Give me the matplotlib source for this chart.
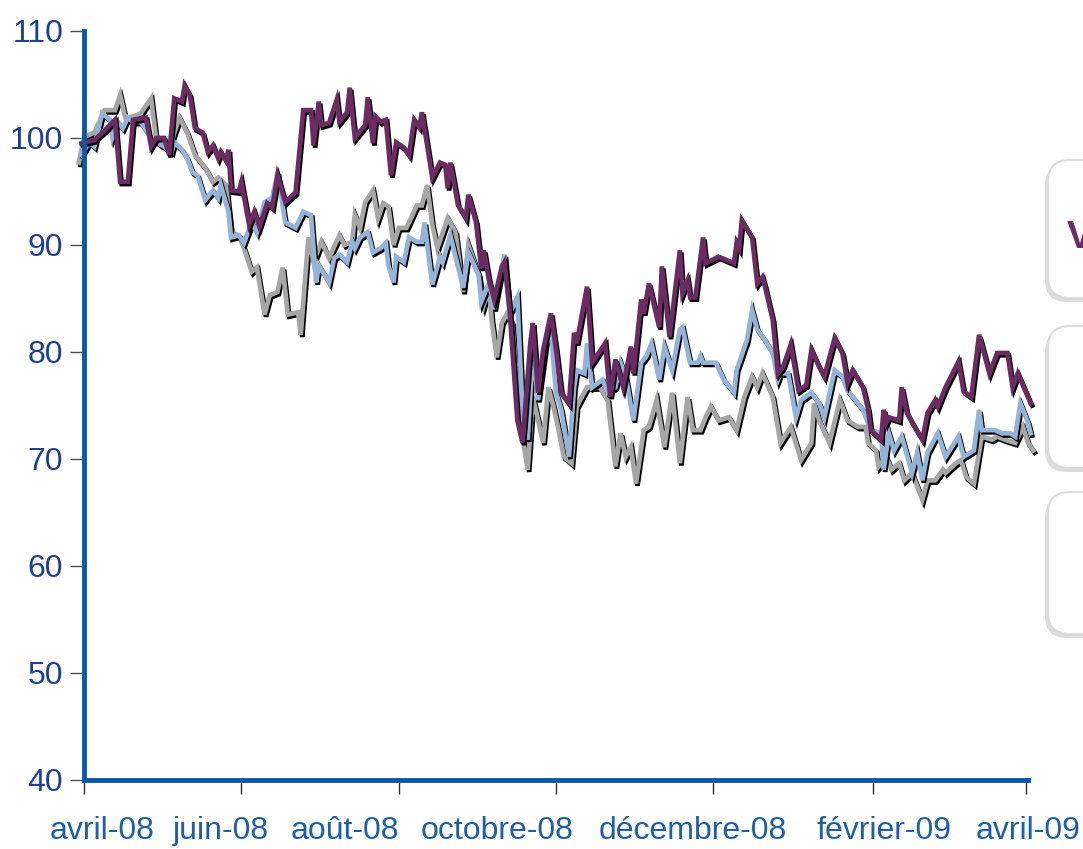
import numpy as np
import matplotlib
matplotlib.use("Agg")
import matplotlib.pyplot as plt
import matplotlib.transforms as mtransforms
from matplotlib.patches import FancyBboxPatch
from matplotlib.ticker import FixedLocator, NullFormatter

plt.rcParams['font.family'] = ['Liberation Sans', 'DejaVu Sans']

debut = np.datetime64('2008-04-01')

# jours depuis le 1er avril 2008, indice base 100
jours_violet = [-1, 4, 8, 12, 14, 17, 19, 24, 26, 28,
                31, 33, 35, 38, 39, 41, 43, 46, 48, 50,
                52, 53, 55, 56, 57, 60, 61, 64, 66, 68,
                71, 73, 75, 78, 82, 85, 88, 89, 91, 92,
                95, 98, 99, 102, 103, 105, 109, 110, 112, 113,
                115, 117, 119, 121, 124, 126, 128, 130, 131, 135,
                138, 140, 141, 142, 145, 148, 149, 152, 154, 155,
                157, 159, 162, 163, 165, 168, 170, 173, 174, 176,
                178, 181, 183, 185, 188, 190, 191, 195, 197, 202,
                204, 206, 209, 212, 213, 216, 217, 219, 223, 224,
                227, 231, 232, 234, 235, 237, 240, 241, 246, 252,
                253, 254, 255, 259, 261, 263, 264, 267, 269, 271,
                274, 277, 280, 282, 285, 287, 291, 294, 296, 298,
                302, 304, 305, 309, 310, 311, 312, 316, 317, 319,
                322, 325, 327, 330, 331, 334, 339, 341, 344, 347,
                351, 354, 358, 360, 362, 367]
violet = [99.5, 99.8, 100.7, 101.7, 95.9, 95.9, 101.7, 101.9, 99.2, 100,
          100, 98.4, 103.7, 103.4, 104.9, 104, 100.9, 100.5, 98.7, 99.3,
          98.1, 98.7, 97.9, 98.9, 95.1, 95, 95.9, 91.9, 93.1, 91.7,
          93.9, 93.5, 96.5, 94, 94.9, 102.6, 102.6, 99.3, 103.4, 101.2,
          101.4, 103.6, 101.5, 102.4, 104.7, 100, 101.2, 103.8, 99.5, 102,
          101.5, 101.7, 96.5, 99.6, 99.1, 98.4, 101.7, 101, 102.4, 96.3,
          97.7, 97.5, 95.3, 97.7, 93.7, 92.5, 94.7, 92.1, 87.8, 89.5,
          86.7, 84.9, 88, 88.4, 83.9, 73.6, 71.5, 80.8, 82.7, 76.2,
          80.2, 83.6, 80.2, 76.2, 75.2, 81.8, 80.8, 86.1, 79, 80.8,
          75.8, 79.3, 76.7, 80.5, 78, 84.9, 83.6, 86.4, 82.3, 88,
          81.4, 89.5, 85.5, 86.7, 85.1, 85.1, 90.7, 88.3, 88.9, 88.3,
          90.2, 89.7, 92.3, 90.7, 86.4, 87, 86.1, 83, 78, 78.6,
          80.7, 76.4, 76.9, 80.2, 78.6, 77.7, 81.3, 79.9, 77.1, 78.3,
          76.7, 74.6, 72.7, 71.8, 74.6, 73.4, 73.9, 73.6, 76.7, 74.3,
          73, 71.8, 74.3, 75.5, 74.9, 76.7, 79.1, 76.3, 75.8, 81.6,
          78, 79.9, 79.9, 76.7, 78, 75.2]

jours_bleu = [-1, 2, 4, 7, 10, 11, 13, 15, 17, 19,
              22, 26, 29, 31, 34, 35, 38, 40, 42, 44,
              47, 50, 52, 53, 56, 57, 60, 62, 65, 67,
              70, 73, 75, 78, 82, 85, 88, 90, 91, 95,
              97, 99, 102, 104, 105, 107, 110, 112, 115, 117,
              118, 120, 121, 124, 126, 129, 131, 132, 135, 138,
              139, 142, 147, 149, 153, 154, 157, 159, 163, 165,
              168, 170, 172, 174, 176, 179, 181, 183, 185, 188,
              190, 191, 194, 195, 197, 201, 203, 206, 208, 210,
              213, 216, 218, 220, 223, 225, 228, 231, 232, 235,
              238, 239, 240, 245, 248, 252, 253, 257, 259, 261,
              264, 267, 269, 270, 273, 276, 278, 282, 285, 287,
              291, 294, 296, 298, 302, 305, 309, 310, 312, 314,
              317, 321, 323, 325, 327, 331, 334, 339, 341, 345,
              347, 348, 353, 356, 359, 361, 363, 366, 367]
bleu = [98.4, 99.6, 99.2, 102.3, 101.7, 100.1, 101.5, 100.9, 101.9, 101.5,
        101.5, 100, 99.5, 99.2, 98.7, 99.6, 98.9, 98.1, 96.8, 96.5,
        94.2, 95.1, 94.4, 95.6, 93.1, 90.7, 90.9, 90.2, 92.1, 91.2,
        94, 94.4, 96.8, 92.1, 91.6, 93.1, 92.8, 86.5, 88.1, 86.5,
        88.8, 89.1, 88.4, 90.3, 89.7, 90.7, 91.2, 89.3, 89.7, 90.2,
        88.1, 86.5, 88.9, 88.4, 90.7, 90.3, 90.3, 92.1, 86.3, 88.9,
        88.4, 90.9, 86, 89.3, 87.2, 84.7, 86.5, 84, 89.1, 83.6,
        85.1, 74.3, 71.8, 80.2, 75.5, 80.8, 81.8, 76.2, 74.6, 70.2,
        76.7, 78.3, 78, 80.8, 76.7, 77.4, 76.2, 76.7, 79, 77.7,
        73.6, 79, 79.6, 80.8, 77.4, 80.5, 78.3, 82.1, 82.3, 79,
        79, 79.6, 79, 79, 77.4, 76.2, 78.3, 81.1, 83.9, 82.1,
        81.1, 79.9, 77.4, 78, 78, 73.9, 75.5, 76.2, 75.2, 73.9,
        78.3, 77.7, 76.4, 75.8, 74.6, 72.7, 72.4, 69, 72.4, 70.8,
        72.1, 68.7, 70.6, 68, 70.6, 72.4, 70.2, 72.1, 70.2, 70.8,
        74.6, 72.7, 72.7, 72.4, 72.4, 72.1, 75.2, 73.4, 72.4]

jours_gris = [-2, 0, 4, 8, 12, 14, 16, 19, 22, 26,
              28, 30, 33, 35, 37, 40, 43, 47, 50, 52,
              55, 57, 60, 62, 65, 67, 70, 72, 75, 77,
              79, 83, 84, 87, 89, 92, 95, 99, 101, 104,
              105, 107, 109, 112, 114, 116, 118, 120, 122, 125,
              126, 129, 131, 133, 135, 137, 141, 144, 147, 149,
              153, 155, 157, 158, 160, 162, 164, 166, 169, 172,
              174, 178, 180, 182, 184, 186, 189, 191, 195, 197,
              200, 203, 206, 208, 210, 212, 214, 217, 219, 222,
              225, 228, 231, 234, 236, 239, 241, 243, 246, 250,
              253, 256, 259, 261, 263, 267, 270, 274, 278, 282,
              283, 285, 289, 293, 296, 300, 303, 304, 307, 308,
              311, 313, 316, 318, 321, 325, 327, 330, 333, 334,
              338, 340, 342, 345, 348, 352, 354, 357, 361, 364,
              366, 368]
gris = [97.7, 100.1, 100.5, 102.6, 102.6, 104, 101.9, 102, 102.3, 103.7,
        99.8, 99.3, 99.1, 100.5, 101.9, 100.5, 98.4, 97.2, 95.9, 96.3,
        95.6, 91.2, 90.9, 89.7, 87.5, 87.9, 83.5, 85.3, 85.6, 87.9,
        83.5, 83.7, 81.6, 90.7, 88.4, 90.3, 88.8, 90.9, 90, 90.3,
        92.8, 91.6, 94, 95.1, 92.5, 93.9, 93.6, 90, 91.6, 91.6,
        92.1, 93.7, 93.7, 95.6, 91.9, 89.7, 92.5, 91.2, 85.6, 90,
        87.2, 84.4, 86, 83, 79.5, 82.7, 83.6, 82.7, 73.6, 69,
        75.8, 71.5, 76.7, 74.9, 72.7, 70.2, 69.6, 74.9, 76.7, 76.7,
        76.7, 75.5, 69.3, 72.4, 70.2, 71.1, 67.7, 72.7, 73, 75.5,
        71.1, 76.2, 69.6, 75.8, 72.7, 72.7, 73.9, 74.9, 73.6, 73.9,
        72.7, 75.8, 77.7, 76.7, 78, 75.8, 71.5, 73, 69.9, 71.5,
        75.2, 73.6, 71.5, 75.5, 73.6, 73, 73, 71.5, 70.8, 69.3,
        70.2, 69, 69.6, 68, 68.7, 66.2, 68, 68, 69, 68.7,
        69.6, 69.9, 68.3, 67.7, 72.1, 71.8, 72.1, 71.8, 71.5, 73,
        71.5, 70.8]

mois_ticks = ['2008-04-01', '2008-06-01', '2008-08-01', '2008-10-01',
              '2008-12-01', '2009-02-01', '2009-04-01']
mois_labels = ['avril-08', 'juin-08', 'août-08', 'octobre-08',
               'décembre-08', 'février-09', 'avril-09']
# position des libellés (Excel les décale par rapport aux graduations)
pos_labels = ['2008-04-08', '2008-05-24', '2008-07-11', '2008-09-08',
              '2008-11-23', '2009-02-05', '2009-04-02']

c_violet = '#6b2c63'
c_bleu = '#95b3d7'
c_gris = '#a6a6a6'


def to_dates(jours):
    return debut + np.array(jours).astype('timedelta64[D]')


fig = plt.figure(figsize=(10.83, 8.49), dpi=100)
ax = fig.add_axes([0.0776, 0.0813, 0.8717, 0.8822])

ombre = mtransforms.ScaledTranslation(1.5 / 100, -2.2 / 100, fig.dpi_scale_trans)
for jours, vals, col in [(jours_gris, gris, c_gris),
                         (jours_bleu, bleu, c_bleu),
                         (jours_violet, violet, c_violet)]:
    d = to_dates(jours)
    ax.plot(d, vals, color='black', lw=3.4, solid_joinstyle='miter',
            transform=ax.transData + ombre, clip_on=False, zorder=2)
    ax.plot(d, vals, color=col, lw=3.4, solid_joinstyle='miter',
            clip_on=False, zorder=2)

ax.set_ylim(40, 110)
ax.set_xlim(np.datetime64('2008-04-01'), np.datetime64('2009-04-02'))
ax.set_yticks(np.arange(40, 111, 10))

ax.xaxis.set_major_locator(FixedLocator(matplotlib.dates.date2num(
    np.array(mois_ticks, dtype='datetime64[D]'))))
ax.xaxis.set_major_formatter(NullFormatter())
ax.xaxis.set_minor_locator(FixedLocator(matplotlib.dates.date2num(
    np.array(pos_labels, dtype='datetime64[D]'))))
ax.set_xticklabels(mois_labels, minor=True)

ax.tick_params(axis='y', direction='out', length=10, width=1, color='#505050',
               labelsize=23, labelcolor='#1f3f97', pad=5)
ax.tick_params(axis='x', which='major', direction='out', length=10, width=1,
               color='#303030')
ax.tick_params(axis='x', which='minor', length=0, labelsize=23,
               labelcolor='#1f5fa8', pad=26)

for s in ['top', 'right']:
    ax.spines[s].set_visible(False)
for s in ['left', 'bottom']:
    ax.spines[s].set_color('#0a58a6')
    ax.spines[s].set_linewidth(3.5)
    ax.spines[s].set_zorder(3)

# cadres de légende coupés à droite
W, H = 1083.0, 849.0
for top, bot in [(160, 298), (326, 468), (492, 634)]:
    x0 = 1048 / W
    y0 = (H - bot) / H
    h = (bot - top) / H
    sh = FancyBboxPatch((x0 - 3 / W, y0 - 4 / H), 0.1, h,
                        boxstyle='round,pad=0,rounding_size=0.02',
                        mutation_aspect=W / H,
                        transform=fig.transFigure, facecolor='#cfcfcf',
                        edgecolor='none', alpha=0.7)
    fig.patches.append(sh)
    bx = FancyBboxPatch((x0, y0), 0.1, h,
                        boxstyle='round,pad=0,rounding_size=0.02',
                        mutation_aspect=W / H,
                        transform=fig.transFigure, facecolor='white',
                        edgecolor='#dcdcdc', lw=1.5)
    fig.patches.append(bx)

fig.text(1067 / W, (H - 238) / H, 'V', color=c_violet, fontsize=28,
         fontweight='bold', ha='left', va='center')

fig.savefig('out.png', dpi=100)
